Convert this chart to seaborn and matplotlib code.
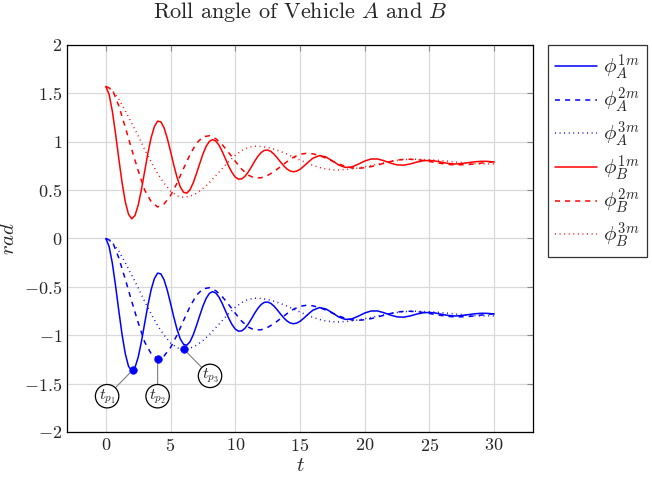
import numpy as np
import pandas as pd
import matplotlib
matplotlib.use('Agg')
import matplotlib.pyplot as plt
import seaborn as sns

# time grids
t_fine = np.concatenate([np.arange(0, 16.01, 0.25), np.arange(16.5, 30.01, 0.5)])
t_half = np.arange(0, 30.01, 0.5)

# roll angle, vehicle A
phi_A1 = [0, -0.081, -0.253, -0.487, -0.744, -0.989, -1.189, -1.320, -1.368, -1.334,
          -1.227, -1.066, -0.877, -0.690, -0.529, -0.414, -0.358, -0.365, -0.428, -0.536,
          -0.671, -0.812, -0.939, -1.037, -1.093, -1.103, -1.068, -0.996, -0.901, -0.798,
          -0.699, -0.619, -0.567, -0.549, -0.564, -0.608, -0.674, -0.750, -0.826, -0.890,
          -0.937, -0.958, -0.955, -0.928, -0.884, -0.830, -0.772, -0.721, -0.682, -0.660,
          -0.657, -0.671, -0.700, -0.739, -0.781, -0.821, -0.853, -0.874, -0.881, -0.874,
          -0.856, -0.829, -0.798, -0.768, -0.741,
          -0.714, -0.728, -0.768, -0.812, -0.836, -0.831, -0.803, -0.770, -0.749, -0.749,
          -0.768, -0.792, -0.810, -0.813, -0.801, -0.782, -0.768, -0.764, -0.771, -0.785,
          -0.796, -0.801, -0.796, -0.787, -0.778, -0.773, -0.774, -0.780]
phi_A2 = [0, -0.03, -0.20, -0.42, -0.65, -0.87, -1.07, -1.19, -1.245, -1.214,
          -1.127, -0.998, -0.849, -0.704, -0.587, -0.520, -0.509, -0.540, -0.602, -0.684,
          -0.773, -0.855, -0.916, -0.946, -0.943, -0.919, -0.879, -0.828, -0.776, -0.731,
          -0.701, -0.690, -0.696, -0.714, -0.740, -0.771, -0.801, -0.825, -0.841, -0.845,
          -0.840, -0.828, -0.811, -0.793, -0.775, -0.761, -0.753, -0.752, -0.756, -0.764,
          -0.775, -0.787, -0.797, -0.806, -0.810, -0.809, -0.806, -0.800, -0.792, -0.784,
          -0.777]
phi_A3 = [0, -0.04, -0.13, -0.25, -0.38, -0.51, -0.65, -0.78, -0.90, -1.00,
          -1.08, -1.13, -1.145, -1.134, -1.104, -1.055, -0.993, -0.921, -0.847, -0.775,
          -0.711, -0.662, -0.630, -0.617, -0.620, -0.631, -0.648, -0.672, -0.699, -0.729,
          -0.760, -0.789, -0.815, -0.837, -0.852, -0.861, -0.862, -0.858, -0.851, -0.842,
          -0.829, -0.816, -0.801, -0.787, -0.775, -0.764, -0.757, -0.753, -0.752, -0.754,
          -0.757, -0.761, -0.767, -0.773, -0.780, -0.786, -0.792, -0.796, -0.799, -0.800,
          -0.800]

# roll angle, vehicle B
phi_B1 = [1.571, 1.490, 1.318, 1.084, 0.827, 0.582, 0.382, 0.251, 0.203, 0.237,
          0.344, 0.505, 0.694, 0.881, 1.042, 1.157, 1.213, 1.206, 1.143, 1.035,
          0.900, 0.759, 0.632, 0.534, 0.478, 0.468, 0.503, 0.575, 0.670, 0.773,
          0.872, 0.952, 1.004, 1.022, 1.007, 0.963, 0.897, 0.821, 0.745, 0.681,
          0.634, 0.613, 0.616, 0.643, 0.687, 0.741, 0.799, 0.850, 0.889, 0.911,
          0.914, 0.900, 0.871, 0.832, 0.790, 0.750, 0.718, 0.697, 0.690, 0.697,
          0.715, 0.742, 0.773, 0.803, 0.830,
          0.857, 0.843, 0.803, 0.759, 0.735, 0.740, 0.768, 0.801, 0.822, 0.822,
          0.803, 0.779, 0.761, 0.758, 0.770, 0.789, 0.803, 0.807, 0.800, 0.786,
          0.775, 0.770, 0.775, 0.784, 0.793, 0.798, 0.797, 0.791]
phi_B2 = [1.571, 1.541, 1.371, 1.151, 0.921, 0.701, 0.501, 0.381, 0.326, 0.357,
          0.444, 0.573, 0.722, 0.867, 0.984, 1.051, 1.062, 1.031, 0.969, 0.887,
          0.798, 0.716, 0.655, 0.625, 0.628, 0.652, 0.692, 0.743, 0.795, 0.840,
          0.870, 0.881, 0.875, 0.857, 0.831, 0.800, 0.770, 0.746, 0.730, 0.726,
          0.731, 0.743, 0.760, 0.778, 0.796, 0.810, 0.818, 0.819, 0.815, 0.807,
          0.796, 0.784, 0.774, 0.765, 0.761, 0.762, 0.765, 0.771, 0.779, 0.787,
          0.794]
phi_B3 = [1.571, 1.531, 1.441, 1.321, 1.191, 1.061, 0.921, 0.791, 0.671, 0.571,
          0.491, 0.441, 0.426, 0.437, 0.467, 0.516, 0.578, 0.650, 0.724, 0.796,
          0.860, 0.909, 0.941, 0.954, 0.951, 0.940, 0.923, 0.899, 0.872, 0.842,
          0.811, 0.782, 0.756, 0.734, 0.719, 0.710, 0.709, 0.713, 0.720, 0.729,
          0.742, 0.755, 0.770, 0.784, 0.796, 0.807, 0.814, 0.818, 0.819, 0.817,
          0.814, 0.810, 0.804, 0.798, 0.791, 0.785, 0.779, 0.775, 0.772, 0.771,
          0.771]

# peak times of vehicle A
tp_t = [2.08, 4.0, 6.03]
tp_v = [-1.359, -1.245, -1.145]
tp_labels = [r'$t_{p_1}$', r'$t_{p_2}$', r'$t_{p_3}$']
tp_text = [(0.1, -1.63), (4.0, -1.63), (8.05, -1.42)]

x_ticks = [0, 5, 10, 15, 20, 25, 30]
y_ticks = [-2, -1.5, -1, -0.5, 0, 0.5, 1, 1.5, 2]

sns.set_style('white')
plt.rcParams['font.family'] = ['cmr10']
plt.rcParams['mathtext.fontset'] = 'cm'
plt.rcParams['axes.unicode_minus'] = False

fig = plt.figure(figsize=(6.52, 4.95), dpi=100)
ax = fig.add_axes([67/652, 1-432/495, 466/652, 387/495])

dash = (0, (3.3, 3.3))
dot = (0, (0.6, 2.4))
series = [
    (t_fine, phi_A1, 'blue', '-', r'$\phi_A^{1m}$'),
    (t_half, phi_A2, 'blue', dash, r'$\phi_A^{2m}$'),
    (t_half, phi_A3, 'blue', dot, r'$\phi_A^{3m}$'),
    (t_fine, phi_B1, 'red', '-', r'$\phi_B^{1m}$'),
    (t_half, phi_B2, 'red', dash, r'$\phi_B^{2m}$'),
    (t_half, phi_B3, 'red', dot, r'$\phi_B^{3m}$'),
]
for t, v, c, ls, lab in series:
    df = pd.DataFrame({'t': t, 'v': v})
    sns.lineplot(data=df, x='t', y='v', ax=ax, color=c, linestyle=ls, lw=1.1, label=lab)

sns.scatterplot(x=tp_t, y=tp_v, ax=ax, color='blue', s=30, edgecolor='blue', zorder=5, legend=False)
for (xt, yt), px, py, lab in zip(tp_text, tp_t, tp_v, tp_labels):
    ax.annotate(lab, xy=(px, py), xytext=(xt, yt), fontsize=11.5, ha='center', va='center',
                bbox=dict(boxstyle='circle,pad=0.15', fc='white', ec='black', lw=0.9),
                arrowprops=dict(arrowstyle='-', color='gray', lw=0.8, shrinkA=0, shrinkB=0))

ax.set_xlim(-3, 33)
ax.set_ylim(-2, 2)
ax.set_xticks(x_ticks)
ax.set_xticklabels([f'${x}$' for x in x_ticks])
ax.set_yticks(y_ticks)
ax.set_yticklabels([f'${y:g}$' for y in y_ticks])
ax.tick_params(labelsize=13, direction='in', length=4, color='#888888', top=True, right=True)
ax.grid(True, color='#d9d9d9', lw=0.9)
for s in ax.spines.values():
    s.set_color('black')
    s.set_linewidth(0.9)
ax.set_xlabel(r'$t$', fontsize=15, labelpad=2)
ax.set_ylabel(r'$rad$', fontsize=15, labelpad=4)
fig.text(300/652, 1-12/495, r'Roll angle of Vehicle $A$ and $B$', fontsize=16, ha='center', va='center')

leg = ax.legend(loc='upper left', bbox_to_anchor=(1.032, 1.0), fontsize=15, frameon=True,
                fancybox=False, edgecolor='black', handlelength=2.0, handletextpad=0.3,
                labelspacing=0.2, borderpad=0.35, borderaxespad=0)
leg.get_frame().set_linewidth(0.9)

fig.savefig('out.png', dpi=100)
